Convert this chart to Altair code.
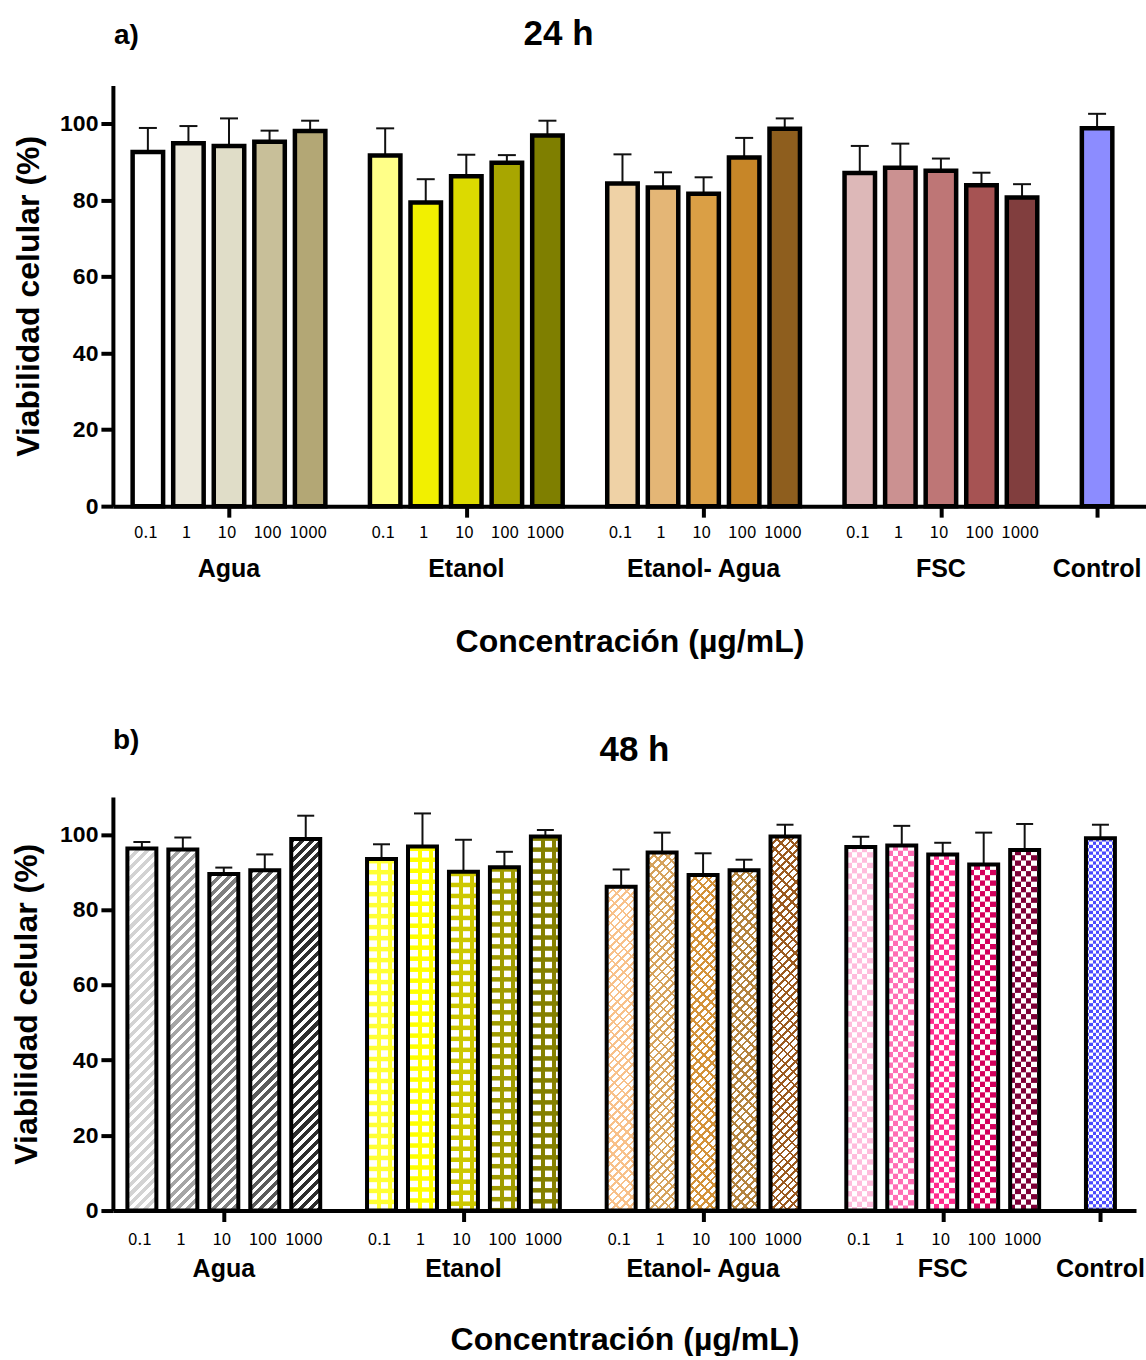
import math
import altair as alt
import pandas as pd

# ---------------- data ----------------
groups = ["Agua", "Etanol", "Etanol- Agua", "FSC", "Control"]
conc_labels = ["0.1", "1", "10", "100", "1000"]

# 24 h : mean viability (%) and SD
agua_24h = [92.6, 94.9, 94.2, 95.3, 98.1]
agua_24h_sd = [6.3, 4.5, 7.2, 2.9, 2.7]
etanol_24h = [91.7, 79.4, 86.3, 89.8, 96.9]
etanol_24h_sd = [7.1, 6.1, 5.6, 2.0, 3.9]
etanol_agua_24h = [84.4, 83.3, 81.7, 91.2, 98.7]
etanol_agua_24h_sd = [7.6, 4.0, 4.3, 5.1, 2.7]
fsc_24h = [87.1, 88.5, 87.7, 83.9, 80.7]
fsc_24h_sd = [7.1, 6.3, 3.2, 3.3, 3.5]
control_24h = [98.8]
control_24h_sd = [3.8]

# 48 h : mean viability (%) and SD
agua_48h = [96.3, 96.0, 89.5, 90.5, 98.8]
agua_48h_sd = [1.7, 3.2, 1.7, 4.2, 6.2]
etanol_48h = [93.5, 96.8, 90.1, 91.3, 99.5]
etanol_48h_sd = [3.9, 8.8, 8.5, 4.1, 1.7]
etanol_agua_48h = [86.1, 95.2, 89.2, 90.5, 99.5]
etanol_agua_48h_sd = [4.6, 5.3, 5.8, 2.8, 3.1]
fsc_48h = [96.7, 97.1, 94.7, 92.0, 95.9]
fsc_48h_sd = [2.7, 5.2, 3.1, 8.5, 6.9]
control_48h = [99.0]
control_48h_sd = [3.6]

# ---------------- styles ----------------
colors_24h = [
    ["#ffffff", "#ece9dc", "#e0ddc8", "#c8bf99", "#b3a775"],
    ["#ffff88", "#f2f000", "#dcda00", "#a8a600", "#7f7f00"],
    ["#efd2a6", "#e4b676", "#da9f45", "#c78628", "#8e5e1e"],
    ["#ddb8b8", "#cb9191", "#be7676", "#a65353", "#813e3e"],
    ["#8c8cff"],
]
colors_48h = [
    ["#d3d3d3", "#a6a6a6", "#7f7f7f", "#5a5a5a", "#2e2e2e"],
    ["#ffff33", "#ffff00", "#cdc800", "#a09c00", "#858000"],
    ["#f8c18a", "#d6a35e", "#d4933a", "#b5843f", "#9b5a1f"],
    ["#ffbcdc", "#ff6eb4", "#ff2b8c", "#d4005c", "#7d0037"],
    ["#4b4bff"],
]

BOLD = "Liberation Sans"
NUMF = "Noto Sans CJK KR"
CLEAR = "rgba(255,255,255,0)"
SQ2 = math.sqrt(2)
G = 5.85  # group spacing in bar slots


def slot(g, i):
    return 4 * G if g == 4 else g * G + i


def build_df(means, sds, colors):
    rows = []
    for g, name in enumerate(groups):
        for i in range(len(means[g])):
            rows.append({
                "key": f"{g}_{i}", "group": name,
                "label": conc_labels[i] if g < 4 else "",
                "mean": means[g][i],
                "upper": round(means[g][i] + sds[g][i], 3),
                "pos": slot(g, i), "color": colors[g][i],
            })
    return pd.DataFrame(rows)


gdf = pd.DataFrame({"group": groups,
                    "pos": [slot(g, 2) if g < 4 else slot(4, 0) for g in range(5)]})


def stops(period, on_len, phase, on_col, off_col):
    out = []
    t = -phase
    while t < 1:
        for o, c in ((t, on_col), (t + on_len, on_col), (t + on_len, off_col), (t + period, off_col)):
            out.append(alt.GradientStop(color=c, offset=round(min(max(o, 0.0), 1.0), 6)))
        t += period
    return out


def diag_gradient(w, h, P, on_px, on_col, off_col, direction="/"):
    s = (w + h) * w / (w * w + h * h)
    period = P * SQ2 / (w + h)
    on = on_px * SQ2 / (w + h)
    st = stops(period, on, 0, on_col, off_col)
    if direction == "/":
        return alt.Gradient(gradient="linear", x1=0, y1=0, x2=s, y2=s * h / w, stops=st)
    return alt.Gradient(gradient="linear", x1=1, y1=0, x2=1 - s, y2=s * h / w, stops=st)


def col_gradient(w, on_px, off_px, phase_px, on_col, off_col):
    period = (on_px + off_px) / w
    return alt.Gradient(gradient="linear", x1=0, y1=0, x2=1, y2=0,
                        stops=stops(period, on_px / w, phase_px / w, on_col, off_col))


def make_panel(df, cfg, title, letter, patterned):
    W, H, ppx = cfg["W"], cfg["H"], cfg["ppx"]
    L = cfg["L"]
    ppu = H / 110.0
    xs = alt.Scale(domain=[L, L + W / ppx], nice=False, zero=False, padding=0)
    ys = alt.Scale(domain=[0, 110], nice=False, padding=0)
    bw = cfg["bw"]
    sw = cfg["sw"]

    xaxis = alt.Axis(values=list(gdf["pos"]), labels=False, tickSize=11, tickWidth=4,
                     tickColor="black", domainColor="black", domainWidth=4, grid=False,
                     title="Concentración (µg/mL)", titleFont=BOLD, titleFontSize=32,
                     titleFontWeight="bold", titleColor="black", titlePadding=cfg["xtp"])
    yaxis = alt.Axis(values=[0, 20, 40, 60, 80, 100], title="Viabilidad celular (%)",
                     titleFont=BOLD, titleFontSize=32, titleFontWeight="bold",
                     titleColor="black", titlePadding=cfg["ytp"], labelFont=BOLD,
                     labelFontSize=23, labelFontWeight="bold", labelColor="black",
                     labelPadding=3, tickSize=12, tickWidth=4, tickColor="black",
                     domainColor="black", domainWidth=4, grid=False)

    def X(f="pos"):
        return alt.X(f"{f}:Q", scale=xs, axis=xaxis)

    def Y(f):
        return alt.Y(f"{f}:Q", scale=ys, axis=yaxis)

    base = alt.Chart(df)
    layers = []

    # error bars
    half = cfg["cap"] / 2 / ppx
    layers.append(base.mark_rule(color="#111111", strokeWidth=2).encode(
        x=X(), y=Y("mean"), y2="upper:Q"))
    layers.append(base.transform_calculate(
        xl=f"datum.pos - {half}", xr=f"datum.pos + {half}").mark_rule(
        color="#111111", strokeWidth=2).encode(x=X("xl"), x2="xr:Q", y=Y("upper")))

    if not patterned:
        layers.append(base.mark_bar(size=bw, stroke="black", strokeWidth=sw).encode(
            x=X(), y=Y("mean"), fill=alt.Fill("color:N", scale=None)))
    else:
        # solid bases for grid / checker groups
        layers.append(base.transform_filter(
            alt.FieldOneOfPredicate(field="group", oneOf=["Etanol", "FSC", "Control"])
        ).mark_bar(size=bw, strokeWidth=0).encode(
            x=X(), y=Y("mean"), fill=alt.Fill("color:N", scale=None)))
        for _, r in df.iterrows():
            h = r["mean"] * ppu
            one = base.transform_filter(alt.datum.key == r["key"])
            if r["group"] == "Agua":
                grad = diag_gradient(bw, h, 7.0, 3.6, r["color"], "#ffffff", "/")
                layers.append(one.mark_bar(size=bw, strokeWidth=0, fill=grad).encode(
                    x=X(), y=Y("mean")))
            elif r["group"] == "Etanol- Agua":
                g1 = diag_gradient(bw, h, 5.5, 1.9, r["color"], "#ffffff", "/")
                g2 = diag_gradient(bw, h, 8.5, 1.9, r["color"], CLEAR, "\\")
                layers.append(one.mark_bar(size=bw, strokeWidth=0, fill=g1).encode(
                    x=X(), y=Y("mean")))
                layers.append(one.mark_bar(size=bw, strokeWidth=0, fill=g2).encode(
                    x=X(), y=Y("mean")))

        def rows_layer(grps, period_px, on_px, top_off_px, parity, grad):
            pu = period_px / ppu
            ou = on_px / ppu
            tu = top_off_px / ppu
            ch = base.transform_filter(alt.FieldOneOfPredicate(field="group", oneOf=grps)) \
                .transform_calculate(rows=f"sequence(0, ceil(datum.mean / {pu}) + 1)") \
                .transform_flatten(["rows"]) \
                .transform_calculate(top=f"datum.mean - {tu} - datum.rows * {pu}") \
                .transform_calculate(bot=f"max(0, datum.top - {ou})", par="datum.rows % 2") \
                .transform_filter("datum.top > 0")
            if parity is not None:
                ch = ch.transform_filter(f"datum.par == {parity}")
            return ch.mark_bar(size=bw, strokeWidth=0, fill=grad).encode(
                x=X(), y=Y("top"), y2="bot:Q")

        # Etanol: grid of white squares
        gw, gl = 6.5, 4.5
        layers.append(rows_layer(["Etanol"], gw + gl, gw, gl, None,
                                 col_gradient(bw, gw, gl, -gl / 2 - 1, "#ffffff", CLEAR)))
        # FSC / Control checker
        c = 5.3
        layers.append(rows_layer(["FSC"], c, c, 0, 0, col_gradient(bw, c, c, 0, "#ffffff", CLEAR)))
        layers.append(rows_layer(["FSC"], c, c, 0, 1, col_gradient(bw, c, c, c, "#ffffff", CLEAR)))
        c2 = 3.3
        layers.append(rows_layer(["Control"], c2, c2, 0, 0, col_gradient(bw, c2, c2, 0, "#ffffff", CLEAR)))
        layers.append(rows_layer(["Control"], c2, c2, 0, 1, col_gradient(bw, c2, c2, c2, "#ffffff", CLEAR)))

        layers.append(base.mark_bar(size=bw, fillOpacity=0, stroke="black", strokeWidth=sw).encode(
            x=X(), y=Y("mean")))

    # concentration labels
    layers.append(base.transform_filter("datum.label != ''").mark_text(
        font=NUMF, fontSize=17, color="black", dx=-2, baseline="middle").encode(
        x=X(), y=alt.value(H + cfg["cy"]), text="label:N"))
    # group labels
    layers.append(alt.Chart(gdf).mark_text(
        font=BOLD, fontSize=25, fontWeight="bold", color="black", baseline="middle").encode(
        x=X(), y=alt.value(H + cfg["gy"]), text="group:N"))
    # title and letter
    layers.append(alt.Chart(alt.Data(values=[{"t": title}])).mark_text(
        font=BOLD, fontSize=35, fontWeight="bold", color="black", baseline="middle").encode(
        x=alt.value(cfg["tx"]), y=alt.value(cfg["ty"]), text="t:N"))
    layers.append(alt.Chart(alt.Data(values=[{"t": letter}])).mark_text(
        font=BOLD, fontSize=28, fontWeight="bold", color="black", baseline="middle",
        align="left").encode(
        x=alt.value(cfg["lx"]), y=alt.value(cfg["ly"]), text="t:N"))

    return alt.layer(*layers).properties(width=W, height=H)


cfg_a = dict(W=1034, H=421, ppx=40.6, L=(112 - 147) / 40.6, bw=30.5, sw=4.5, cap=18,
             xtp=107, ytp=14, cy=27, gy=63, tx=446, ty=-52, lx=1, ly=-50)
cfg_b = dict(W=1024, H=414, ppx=41.0, L=(112 - 141) / 41.0, bw=29, sw=4, cap=17,
             xtp=101, ytp=16, cy=29, gy=59, tx=522, ty=-47, lx=0, ly=-56)

df_a = build_df([agua_24h, etanol_24h, etanol_agua_24h, fsc_24h, control_24h],
                [agua_24h_sd, etanol_24h_sd, etanol_agua_24h_sd, fsc_24h_sd, control_24h_sd],
                colors_24h)
df_b = build_df([agua_48h, etanol_48h, etanol_agua_48h, fsc_48h, control_48h],
                [agua_48h_sd, etanol_48h_sd, etanol_agua_48h_sd, fsc_48h_sd, control_48h_sd],
                colors_48h)

pa = make_panel(df_a, cfg_a, "24 h", "a)", False)
pb = make_panel(df_b, cfg_b, "48 h", "b)", True)

chart = alt.vconcat(pa, pb, spacing=70).properties(
    padding={"left": 10, "top": 16, "right": 0, "bottom": 0},
    background="white",
).configure_view(stroke="transparent", strokeWidth=0)

chart.save("out.html", embed_options={"renderer": "svg", "actions": False})
